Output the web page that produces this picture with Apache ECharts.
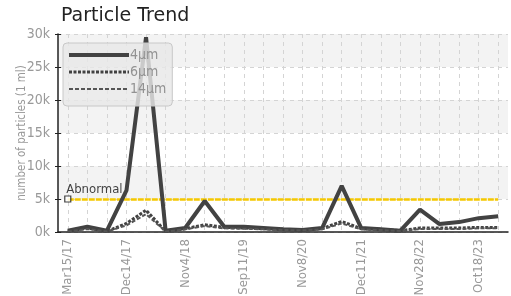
<!DOCTYPE html>
<html>
<head>
<meta charset="utf-8">
<script src="https://cdn.jsdelivr.net/npm/echarts@6/dist/echarts.min.js"></script>
<style>
  html, body { margin: 0; padding: 0; background: #fff; }
  #chart { width: 511px; height: 296px; }
</style>
</head>
<body>
<div id="chart"></div>
<script>
const dates = [
  'Mar15/17', 'Jun20/17', 'Sep18/17', 'Dec14/17', 'Mar22/18', 'Jul10/18',
  'Nov4/18', 'Feb12/19', 'May30/19', 'Sep11/19', 'Jan15/20', 'Jun2/20',
  'Nov8/20', 'Mar3/21', 'Jul19/21', 'Dec11/21', 'Mar14/22', 'Jul5/22',
  'Nov28/22', 'Mar20/23', 'Jul11/23', 'Oct18/23', 'Feb6/24'
]
const um4 = [200, 800, 200, 6300, 29500, 200, 600, 4700, 800, 800, 600, 400, 300, 600, 7000, 600, 400, 200, 3400, 1200, 1500, 2100, 2400]
const um6 = [100, 600, 100, 1300, 3300, 100, 500, 1100, 700, 600, 500, 400, 300, 500, 1600, 500, 400, 200, 600, 600, 600, 700, 700]
const um14 = [80, 450, 80, 1000, 2700, 80, 400, 900, 550, 500, 400, 300, 250, 400, 1300, 400, 300, 150, 450, 450, 450, 550, 550]
const abnormal = 5000
const yTicks = [0, 5000, 10000, 15000, 20000, 25000, 30000]

const chart = echarts.init(document.getElementById('chart'))
const narrow = '"Liberation Sans Narrow", "DejaVu Sans Condensed", sans-serif'
const lineColor = '#424242'

const styles = {
  '4μm': { color: lineColor, width: 4 },
  '6μm': { color: lineColor, width: 3, type: [3, 1.5] },
  '14μm': { color: '#555', width: 2, type: [4, 2] }
}

const option = {
  animation: false,
  title: {
    text: 'Particle Trend',
    left: 56,
    top: 2,
    textStyle: { fontSize: 19, fontWeight: 'normal', color: '#222', fontFamily: 'DejaVu Sans' }
  },
  legend: {
    data: Object.keys(styles).map(name => ({ name, lineStyle: styles[name] })),
    orient: 'vertical',
    left: 63,
    top: 43,
    itemWidth: 60,
    itemHeight: 14,
    itemGap: 3,
    padding: [5, 6, 10, 4],
    backgroundColor: 'rgba(232,232,232,0.82)',
    borderColor: '#c8c8c8',
    borderWidth: 1,
    borderRadius: 4,
    itemStyle: { opacity: 0 },
    textStyle: { color: '#929292', fontSize: 14, fontFamily: narrow, padding: [0, 0, 0, -4] }
  },
  grid: { left: 58, right: 3, top: 34, bottom: 64, outerBoundsMode: 'none' },
  xAxis: {
    type: 'category',
    data: dates,
    boundaryGap: true,
    axisLine: { lineStyle: { color: '#222', width: 1.5 } },
    axisTick: { alignWithLabel: true, interval: 2, length: 4, lineStyle: { color: '#222' } },
    axisLabel: { interval: 2, rotate: 90, color: '#999', fontSize: 13, fontFamily: narrow, margin: 7 },
    splitLine: { show: true, alignWithLabel: true, interval: 0, lineStyle: { color: '#d4d4d4', type: [4, 4] } }
  },
  yAxis: [
    {
      type: 'value',
      min: yTicks[0],
      max: yTicks[yTicks.length - 1],
      interval: 5000,
      name: 'number of particles (1 ml)',
      nameLocation: 'middle',
      nameGap: 30,
      nameMoveOverlap: false,
      nameTextStyle: { color: '#999', fontSize: 11.5, fontFamily: narrow },
      axisLine: { show: true, lineStyle: { color: '#222', width: 1.5 } },
      axisTick: { show: true, length: 3, lineStyle: { color: '#222' } },
      axisLabel: { color: '#999', fontSize: 14, fontFamily: narrow, margin: 8, formatter: v => v / 1000 + 'k' },
      splitLine: { show: true, lineStyle: { color: '#d4d4d4', type: [4, 4] } },
      splitArea: { show: true, areaStyle: { color: ['#fff', '#f3f3f3'] } }
    },
    {
      // inner half of the cross ticks
      type: 'value',
      position: 'left',
      min: yTicks[0],
      max: yTicks[yTicks.length - 1],
      interval: 5000,
      axisLine: { show: false },
      axisTick: { show: true, inside: true, length: 3, lineStyle: { color: '#222' } },
      axisLabel: { show: false },
      splitLine: { show: false }
    }
  ],
  series: [
    { name: '4μm', type: 'line', data: um4, symbol: 'none', lineStyle: styles['4μm'], itemStyle: { color: lineColor } },
    { name: '6μm', type: 'line', data: um6, symbol: 'none', lineStyle: styles['6μm'], itemStyle: { color: lineColor } },
    { name: '14μm', type: 'line', data: um14, symbol: 'none', lineStyle: styles['14μm'], itemStyle: { color: '#555' } },
    {
      name: 'Abnormal', type: 'scatter', z: 5,
      data: [[dates[0], abnormal]],
      symbol: 'rect', symbolSize: 6,
      itemStyle: { color: '#fff', borderColor: '#111', borderWidth: 1.2 },
      label: { show: true, formatter: 'Abnormal', position: [2, -12], color: '#111', fontSize: 13, fontFamily: narrow },
      markLine: {
        silent: true, symbol: 'none', z: 1,
        label: { show: false },
        lineStyle: { color: '#f5c800', width: 2.5, type: [6, 1] },
        data: [[{ coord: [dates[0], abnormal] }, { coord: [dates[dates.length - 1], abnormal] }]]
      }
    }
  ]
}
chart.setOption(option)
</script>
</body>
</html>
